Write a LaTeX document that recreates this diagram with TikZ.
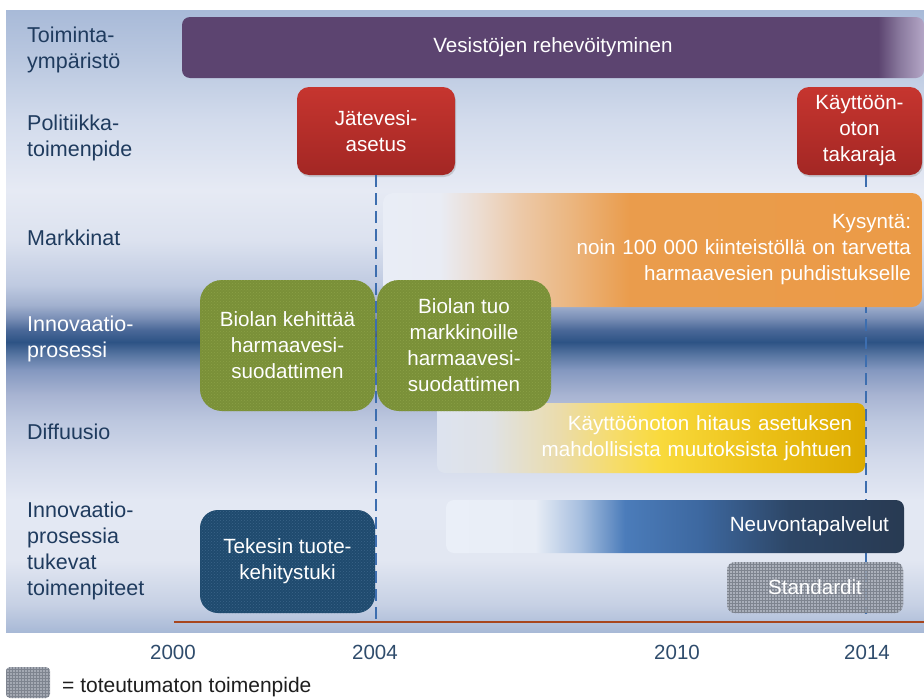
\documentclass[tikz,border=0pt]{standalone}
\usepackage{fontspec}
\setmainfont{Liberation Sans}
\usetikzlibrary{shadows,patterns}

% background colours (bottom to top)
\definecolor{bgA}{HTML}{A8B9D6}
\definecolor{bgB}{HTML}{C6D0E4}
\definecolor{bgC}{HTML}{E2E7F2}
\definecolor{bgD}{HTML}{E3E8F3}
\definecolor{bgE}{HTML}{D3DAEB}
\definecolor{bgF}{HTML}{BCC7DF}
\definecolor{bgG}{HTML}{A8B4D2}
\definecolor{bgH}{HTML}{8498C0}
\definecolor{bgI}{HTML}{5876A2}
\definecolor{bgJ}{HTML}{2D5385}
\definecolor{bgK}{HTML}{4A6898}
\definecolor{bgL}{HTML}{7A8FB6}
\definecolor{bgM}{HTML}{A2B1CF}
\definecolor{bgN}{HTML}{BFCAE1}
\definecolor{bgO}{HTML}{DCE2EF}
\definecolor{bgP}{HTML}{E6EAF4}
\definecolor{bgQ}{HTML}{D2DBEC}
\definecolor{bgR}{HTML}{BAC8E0}
\definecolor{bgS}{HTML}{A8BAD8}

\definecolor{labelc}{HTML}{1F3B5E}
\definecolor{yearc}{HTML}{2F4C6C}
\definecolor{purplec}{HTML}{5C4470}
\definecolor{purpleL}{HTML}{8A7A9E}
\definecolor{purpleE}{HTML}{B4A6C6}
\definecolor{redT}{HTML}{C6352F}
\definecolor{redB}{HTML}{A32724}
\definecolor{paleA}{HTML}{E9EDF6}
\definecolor{paleB}{HTML}{E9ECF4}
\definecolor{orA}{HTML}{ECDCD0}
\definecolor{orB}{HTML}{ECC9A8}
\definecolor{orC}{HTML}{EBB680}
\definecolor{orD}{HTML}{EA9C4C}
\definecolor{orE}{HTML}{EB9B47}
\definecolor{yeA}{HTML}{DDE3EF}
\definecolor{yeB}{HTML}{DFE2E6}
\definecolor{yeC}{HTML}{EBDCAB}
\definecolor{yeD}{HTML}{F5DC70}
\definecolor{yeE}{HTML}{F9DA3C}
\definecolor{yeF}{HTML}{ECC118}
\definecolor{yeG}{HTML}{DDAB00}
\definecolor{nvA}{HTML}{EAEFF8}
\definecolor{nvB}{HTML}{E8EDF6}
\definecolor{nvC}{HTML}{A7BFDF}
\definecolor{nvD}{HTML}{4B7CBA}
\definecolor{nvE}{HTML}{3D68A0}
\definecolor{nvF}{HTML}{2D4666}
\definecolor{nvG}{HTML}{283A52}
\definecolor{greenc}{HTML}{7A9038}
\definecolor{greendot}{HTML}{8AA046}
\definecolor{tekc}{HTML}{1F4A6E}
\definecolor{tekdot}{HTML}{3A6488}
\definecolor{stdc}{HTML}{A4A9B3}
\definecolor{stdgrid}{HTML}{7E848F}
\definecolor{dashc}{HTML}{3D6EAF}
\definecolor{axisc}{HTML}{A8461E}
\definecolor{legc}{HTML}{1E1E1E}

\pgfdeclareverticalshading{bgshade}{100bp}{color(0bp)=(bgA); color(25bp)=(bgA);
 color(27.17bp)=(bgB); color(30.79bp)=(bgC); color(35.61bp)=(bgD); color(38.83bp)=(bgE);
 color(42.04bp)=(bgF); color(44.05bp)=(bgG); color(46.06bp)=(bgH); color(47.27bp)=(bgI);
 color(48.31bp)=(bgJ); color(49.28bp)=(bgK); color(50.24bp)=(bgL); color(51.29bp)=(bgM);
 color(52.89bp)=(bgN); color(56.51bp)=(bgO); color(60.53bp)=(bgP); color(66.16bp)=(bgQ);
 color(70.98bp)=(bgR); color(75bp)=(bgS); color(100bp)=(bgS)}
\pgfdeclarehorizontalshading{purplesh}{100bp}{color(0bp)=(purplec); color(25bp)=(purplec);
 color(71.9bp)=(purplec); color(73.38bp)=(purpleL); color(75bp)=(purpleE); color(100bp)=(purpleE)}
\pgfdeclarehorizontalshading{orangesh}{100bp}{color(0bp)=(paleA); color(25bp)=(paleA);
 color(30.29bp)=(paleB); color(34bp)=(orA); color(37.71bp)=(orB); color(42.35bp)=(orC);
 color(47.91bp)=(orD); color(75bp)=(orE); color(100bp)=(orE)}
\pgfdeclarehorizontalshading{yellowsh}{100bp}{color(0bp)=(yeA); color(25bp)=(yeA);
 color(31.18bp)=(yeB); color(39.34bp)=(yeC); color(45.16bp)=(yeD); color(51bp)=(yeE);
 color(62.65bp)=(yeF); color(75bp)=(yeG); color(100bp)=(yeG)}
\pgfdeclarehorizontalshading{neuvsh}{100bp}{color(0bp)=(nvA); color(25bp)=(nvA);
 color(34.72bp)=(nvB); color(39.63bp)=(nvC); color(44.54bp)=(nvD); color(52.73bp)=(nvE);
 color(62.55bp)=(nvF); color(75bp)=(nvG); color(100bp)=(nvG)}

\tikzset{
  lbl/.style={anchor=west, align=left, text=labelc, font=\fontsize{21.5}{25.8}\selectfont, inner sep=0pt},
  boxtxt/.style={text=white, font=\fontsize{20.6}{26}\selectfont, align=center, inner sep=0pt},
  yr/.style={text=yearc, font=\fontsize{20.5}{24}\selectfont, inner sep=0pt},
  redbox/.style={boxtxt, rounded corners=12pt, top color=redT, bottom color=redB,
    drop shadow={opacity=0.3, shadow xshift=1pt, shadow yshift=-2pt}},
  greenbox/.style={boxtxt, rounded corners=22pt, fill=greenc,
    postaction={pattern=crosshatch dots, pattern color=greendot}},
  fadebox/.style={boxtxt, align=right, shade, shading angle=0},
  vdash/.style={draw=dashc, line width=2.2pt, dash pattern=on 12pt off 6pt},
  axisline/.style={draw=axisc, line width=2.5pt},
}

\begin{document}
\begin{tikzpicture}[x=1pt,y=-1pt]
\useasboundingbox (0,0) rectangle (924,699);

% background
\shade[shading=bgshade] (6,10) rectangle (924,632);

% row labels
\node[lbl] (l1) at (27,50) {Toiminta-\\ympäristö};
\node[lbl] (l2) at (27,138) {Politiikka-\\toimenpide};
\node[lbl] (l3) at (27,238) {Markkinat};
\node[lbl, text=white] (l4) at (27,339) {Innovaatio-\\prosessi};
\node[lbl] (l5) at (27,432) {Diffuusio};
\node[lbl] (l6) at (27,551) {Innovaatio-\\prosessia\\tukevat\\toimenpiteet};

% environment
\node[boxtxt, rounded corners=8pt, shade, shading=purplesh, shading angle=0,
      minimum width=742pt, minimum height=61pt] (env) at (553,47.5) {Vesistöjen rehevöityminen};

% policy boxes
\node[redbox, minimum width=158pt, minimum height=88pt] (jate) at (376,131) {Jätevesi-\\asetus};
\node[redbox, minimum width=125pt, minimum height=88pt] (kayt) at (859.5,131) {Käyttöön-\\oton\\takaraja};

% second deadline line (behind the market and advisory bars)
\coordinate (d2end) at (866,614);
\draw[vdash] (kayt.south -| d2end) -- (d2end);

% market
\node[fadebox, shading=orangesh, rounded corners=10pt, minimum width=539pt, minimum height=114pt,
      text width=517pt] (mkt) at (652.5,250)
  {Kysyntä:\\noin 100 000 kiinteistöllä on tarvetta\\harmaavesien puhdistukselle};

% advisory services
\node[fadebox, shading=neuvsh, rounded corners=8pt, minimum width=458pt, minimum height=53pt,
      text width=428pt] (neuv) at (675,526.5) {Neuvontapalvelut};

% diffusion
\node[fadebox, shading=yellowsh, rounded corners=8pt, minimum width=428pt, minimum height=70pt,
      text width=402pt] (diff) at (651,438)
  {Käyttöönoton hitaus asetuksen\\mahdollisista muutoksista johtuen};

% standards (not realised)
\node[boxtxt, rounded corners=8pt, fill=stdc, fill opacity=0.85, text opacity=1,
      postaction={pattern=grid, pattern color=stdgrid},
      minimum width=176pt, minimum height=51pt] (std) at (815,587.5) {Standardit};

% innovation process
\node[greenbox, minimum width=175pt, minimum height=131pt] (dev) at (287.5,345.5)
  {Biolan kehittää\\harmaavesi-\\suodattimen};
\node[greenbox, minimum width=174pt, minimum height=131pt] (launch) at (464,345.5)
  {Biolan tuo\\markkinoille\\harmaavesi-\\suodattimen};

% Tekes support
\node[boxtxt, rounded corners=18pt, fill=tekc,
      postaction={pattern=crosshatch dots, pattern color=tekdot},
      minimum width=175pt, minimum height=103pt] (tek) at (287.5,561.5)
  {Tekesin tuote-\\kehitystuki};

% time axis
\coordinate (axL) at (174,622);
\coordinate (axR) at (924,622);
\draw[axisline] (axL) -- (axR);

% first deadline line
\coordinate (d1end) at (376,622);
\draw[vdash] (jate.south) -- (d1end);

% years
\node[yr] (y2000) at (173,652) {2000};
\node[yr] (y2004) at (375,652) {2004};
\node[yr] (y2010) at (677,652) {2010};
\node[yr] (y2014) at (867,652) {2014};

% legend
\node[rounded corners=4pt, fill=stdc, postaction={pattern=grid, pattern color=stdgrid},
      minimum width=44pt, minimum height=31pt, inner sep=0pt] (legbox) at (28,682.5) {};
\node[anchor=west, inner sep=0pt, text=legc, font=\fontsize{21}{24}\selectfont] (legtxt) at (62,687)
  {= toteutumaton toimenpide};
\end{tikzpicture}
\end{document}
